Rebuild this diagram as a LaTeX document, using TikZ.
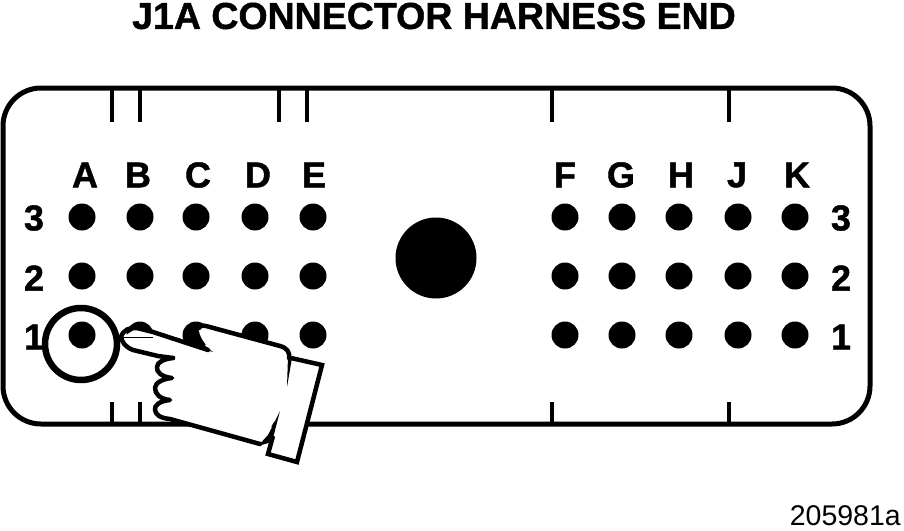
\documentclass[tikz,border=0pt]{standalone}
\usepackage{fontspec}
\setmainfont[BoldFeatures={FakeBold=1.2}]{Liberation Sans}
\tikzset{
  lbl/.style={font=\fontsize{36}{36}\selectfont\bfseries,inner sep=0pt,anchor=center},
  outline/.style={line width=5pt,black},
  tick/.style={line width=4.5pt,black},
  pin/.style={circle,fill=black,draw=none,minimum size=27pt,inner sep=0pt},
  handline/.style={line width=4.5pt,black,line join=round,line cap=round}
}
\begin{document}
\begin{tikzpicture}[x=1pt,y=-1pt]
\useasboundingbox (0,0) rectangle (904,530);
\node[lbl,font=\fontsize{37.5}{37.5}\selectfont\bfseries] (title) at (434,16) {J1A CONNECTOR HARNESS END};
\node[inner sep=0pt,anchor=east,font=\fontsize{28.5}{28.5}\selectfont] (fig) at (901,516) {205981a};
\draw[outline,rounded corners=38pt] (3,88) rectangle (870,424);
\foreach \x in {112,140,279,307,552,729} \draw[tick] (\x,88) -- (\x,122);
\foreach \x in {112,140,552,729} \draw[tick] (\x,424) -- (\x,402);
\foreach \x/\n in {82/1,140/2,196/3,255/4,313/5,565/6,622/7,679/8,738/9,795/10}
  \foreach \y/\m in {217/3,276/2,335/1}
    \node[pin] (p\n r\m) at (\x,\y) {};
\node[circle,fill=black,minimum size=81pt,inner sep=0pt] (key) at (436,258) {};
\foreach \x/\t in {85/A,138/B,198/C,258/D,314/E,565/F,621/G,681/H,737/J,797/K}
  \node[lbl] (col\t) at (\x,175) {\t};
\foreach \y/\t in {218/3,278/2,337/1} {
  \node[lbl] (rl\t) at (34,\y) {\t};
  \node[lbl] (rr\t) at (841,\y) {\t};
}
\node[circle,draw=black,line width=6.5pt,minimum size=72pt,inner sep=0pt] (ring) at (81,344) {};
% cuff
\fill[white] (290,358) -- (323,365) -- (297,463) -- (268,455) -- (280,405) -- cycle;
\draw[handline,line join=miter,line cap=butt] (291,358) -- (322,365) -- (297,462) -- (268,454) -- (273,436);
% hand white body
\fill[white] (123,337) -- (137,328) -- (153,332) -- (213,352)
  .. controls (205,345) and (198,335) .. (199,328) -- (206,326) -- (280,346)
  -- (290,357) -- (287,385) -- (280,412) -- (260,445) -- (167,418) -- (155,410) -- (158,357) -- (133,350) -- cycle;
% index finger
\draw[handline]
  (173,358) -- (158,356) -- (133,350) .. controls (125,347) and (122,342) .. (121,337)
  .. controls (123,330) and (130,327) .. (137,328) -- (153,332) -- (208,350);
% thumb and back of the hand
\draw[handline]
  (199,328) .. controls (201,325) and (203,325) .. (206,326) -- (280,346)
  .. controls (287,348) and (290,352) .. (289,358);
\fill[black] (288,356) -- (292,358) -- (287,387) -- cycle;
\fill[black] (280,411) -- (272,442) -- (258,446) -- (268,435) -- cycle;
% palm and knuckles
\draw[handline]
  (260,444) -- (170,419) .. controls (160,418) and (156,415) .. (155,410)
  .. controls (154,405) and (160,401) .. (170,400)
  .. controls (160,399) and (155,394) .. (155,388)
  .. controls (155,383) and (162,379) .. (172,378)
  .. controls (162,377) and (156,372) .. (157,367)
  .. controls (157,362) and (164,359) .. (173,358);
\fill[black] (196,333) .. controls (198,340) and (205,346) .. (213,352) -- (186,343) -- cycle;
\draw[line width=1pt,black] (122,337) -- (153,337);
\end{tikzpicture}
\end{document}
